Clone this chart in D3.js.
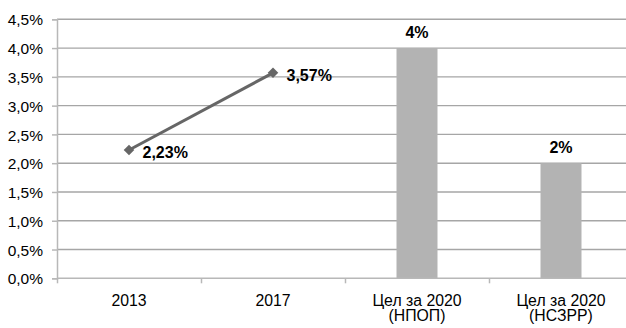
<!DOCTYPE html>
<html><head><meta charset="utf-8">
<script src="https://cdn.jsdelivr.net/npm/d3@7"></script>
<style>body{margin:0;background:#fff}svg{display:block}text{font-family:"Liberation Sans",Arial,sans-serif}</style>
</head><body><svg id="c" width="626" height="328"></svg>
<script>
const categories = [["2013"], ["2017"], ["Цел за 2020", "(НПОП)"], ["Цел за 2020", "(НСЗРР)"]];
const lineValues = [2.23, 3.57, null, null];
const lineLabels = ["2,23%", "3,57%", "", ""];
const barValues = [null, null, 4, 2];
const barLabels = ["", "", "4%", "2%"];
const yTicks = [0, 0.5, 1, 1.5, 2, 2.5, 3, 3.5, 4, 4.5];

const svg = d3.select("#c");
const m = {l: 57, r: 633, t: 19.3, b: 278.3};
const x = d3.scaleBand().domain(d3.range(categories.length)).range([m.l, m.r]);
const y = d3.scaleLinear().domain([0, 4.5]).range([m.b, m.t]);

// gridlines
svg.append("g").selectAll("line").data(yTicks.filter(d => d > 0)).join("line")
  .attr("x1", m.l).attr("x2", m.r).attr("y1", d => y(d)).attr("y2", d => y(d))
  .attr("stroke", "#a6a6a6").attr("stroke-width", 1.4);

// bars
const bw = 41;
svg.append("g").selectAll("rect").data(barValues.map((v, i) => ({v, i})).filter(d => d.v != null)).join("rect")
  .attr("x", d => x(d.i) + x.bandwidth() / 2 - bw / 2).attr("width", bw)
  .attr("y", d => y(d.v)).attr("height", d => y(0) - y(d.v))
  .attr("fill", "#b3b3b3");

// y axis
const yAxis = d3.axisLeft(y).tickValues(yTicks).tickSize(5).tickPadding(9)
  .tickFormat(d => d.toFixed(1).replace(".", ",") + "%");
const ga = svg.append("g").attr("transform", `translate(${m.l},0)`).call(yAxis);
ga.select(".domain").attr("stroke", "#b8b8b8").attr("stroke-width", 1.5);
ga.selectAll(".tick line").attr("stroke", "#b8b8b8").attr("stroke-width", 1.5);
ga.selectAll("text").attr("font-size", 15.5).attr("fill", "#000").attr("dy", "0.36em")
  .attr("font-family", "Liberation Sans, Arial, sans-serif");

// x axis
const xAxis = d3.axisBottom(d3.scaleLinear().domain([0, categories.length]).range([m.l, m.r]))
  .tickValues(d3.range(categories.length + 1)).tickSize(5).tickFormat("");
const gx = svg.append("g").attr("transform", `translate(0,${m.b})`).call(xAxis);
gx.select(".domain").attr("stroke", "#b8b8b8").attr("stroke-width", 1.5).attr("d", `M${m.l},0H${m.r}`);
gx.selectAll(".tick line").attr("stroke", "#b8b8b8").attr("stroke-width", 1.5);

svg.append("g").selectAll("text").data(categories.map((c, i) => ({c, i}))).join("text")
  .attr("x", d => x(d.i) + x.bandwidth() / 2).attr("y", 305.7)
  .attr("text-anchor", "middle").attr("font-size", 15.8).attr("fill", "#000")
  .selectAll("tspan").data(d => d.c).join("tspan")
  .attr("x", function() { return d3.select(this.parentNode).attr("x"); })
  .attr("dy", (d, j) => j === 0 ? 0 : 15.5).text(d => d);

// line
const lp = lineValues.map((v, i) => ({v, i})).filter(d => d.v != null);
svg.append("path").datum(lp)
  .attr("d", d3.line().x(d => x(d.i) + x.bandwidth() / 2).y(d => y(d.v)))
  .attr("fill", "none").attr("stroke", "#666").attr("stroke-width", 3);
svg.append("g").selectAll("path").data(lp).join("path")
  .attr("d", d3.symbol(d3.symbolSquare, 56))
  .attr("transform", d => `translate(${x(d.i) + x.bandwidth() / 2},${y(d.v)}) rotate(45)`)
  .attr("fill", "#666");

svg.append("g").selectAll("text").data(lp).join("text")
  .attr("x", d => x(d.i) + x.bandwidth() / 2 + 13.5).attr("y", d => y(d.v) + 8.5)
  .attr("font-size", 16).attr("font-weight", "bold").attr("fill", "#000")
  .text(d => lineLabels[d.i]);

svg.append("g").selectAll("text").data(barValues.map((v, i) => ({v, i})).filter(d => d.v != null)).join("text")
  .attr("x", d => x(d.i) + x.bandwidth() / 2).attr("y", d => y(d.v) - 10)
  .attr("text-anchor", "middle").attr("font-size", 16).attr("font-weight", "bold").attr("fill", "#000")
  .text(d => barLabels[d.i]);
</script></body></html>
